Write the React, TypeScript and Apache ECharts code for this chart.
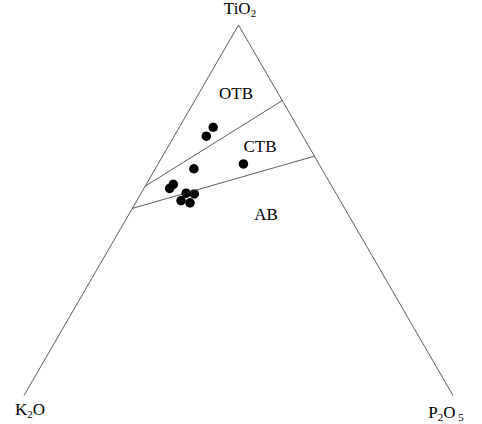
import React, { useEffect, useRef } from "react";
import * as echarts from "echarts";

// Sample compositions (wt% normalised): TiO2, K2O, P2O5
const tio2 = [72.4, 70.0, 61.2, 62.5, 57.0, 55.9, 54.6, 54.4, 52.6, 52.0];
const k2o = [19.7, 22.5, 29.8, 17.6, 36.7, 38.1, 34.9, 33.1, 37.1, 35.3];
const p2o5 = [7.9, 7.5, 9.0, 19.9, 6.3, 6.0, 10.5, 12.5, 10.3, 12.7];

// Field boundaries: endpoints as [TiO2, K2O, P2O5]
const boundaryOTB_CTB = [
  [56.5, 43.5, 0],
  [79.6, 0, 20.4],
];
const boundaryCTB_AB = [
  [50.5, 49.5, 0],
  [64.6, 0, 35.4],
];
// Triangle sides (base not drawn)
const triangleSides = [
  [0, 100, 0],
  [100, 0, 0],
  [0, 0, 100],
];

const fieldLabels = ["OTB", "CTB", "AB"];

function toXY(t: number, k: number, p: number): [number, number] {
  const s = t + k + p;
  const tt = t / s;
  const pp = p / s;
  return [pp + tt / 2, tt];
}

export default function App() {
  const ref = useRef<HTMLDivElement>(null);
  useEffect(() => {
    if (!ref.current) return;
    const chart = echarts.init(ref.current, undefined, { renderer: "svg" });
    const font = "'Liberation Serif', 'Times New Roman', serif";
    const rich = {
      a: { fontSize: 17, lineHeight: 20, fontFamily: font, color: "#000", verticalAlign: "top" },
      s: { fontSize: 11, lineHeight: 12, fontFamily: font, color: "#000", padding: [7, 0, 0, 0], verticalAlign: "top" },
    };
    const lineStyle = { color: "#333", width: 0.8 };
    const pts = tio2.map((t, i) => toXY(t, k2o[i], p2o5[i]));
    chart.setOption({
      animation: false,
      grid: { left: 24, top: 25, width: 429, height: 370.5 },
      xAxis: { type: "value", min: 0, max: 1, show: false },
      yAxis: { type: "value", min: 0, max: 1, show: false },
      series: [
        {
          type: "line",
          data: triangleSides.map((v) => toXY(v[0], v[1], v[2])),
          symbol: "none",
          lineStyle,
          silent: true,
        },
        {
          type: "line",
          data: boundaryOTB_CTB.map((v) => toXY(v[0], v[1], v[2])),
          symbol: "none",
          lineStyle,
          silent: true,
        },
        {
          type: "line",
          data: boundaryCTB_AB.map((v) => toXY(v[0], v[1], v[2])),
          symbol: "none",
          lineStyle,
          silent: true,
        },
        {
          type: "scatter",
          data: pts,
          symbol: "circle",
          symbolSize: 9.5,
          itemStyle: { color: "#000", opacity: 1 },
        },
      ],
      graphic: [
        { type: "text", x: 240, y: 10, style: { text: "{a|TiO}{s|2}", rich, align: "center", verticalAlign: "middle" } },
        { type: "text", x: 30, y: 411, style: { text: "{a|K}{s|2}{a|O}", rich, align: "center", verticalAlign: "middle" } },
        { type: "text", x: 446, y: 414, style: { text: "{a|P}{s|2}{a|O}{s| 5}", rich, align: "center", verticalAlign: "middle" } },
        { type: "text", x: 236, y: 93, style: { text: fieldLabels[0], font: `17px ${font}`, fill: "#000", align: "center", verticalAlign: "middle" } },
        { type: "text", x: 260, y: 146, style: { text: fieldLabels[1], font: `17px ${font}`, fill: "#000", align: "center", verticalAlign: "middle" } },
        { type: "text", x: 266, y: 214, style: { text: fieldLabels[2], font: `17px ${font}`, fill: "#000", align: "center", verticalAlign: "middle" } },
      ],
    });
    return () => chart.dispose();
  }, []);
  return (
    <div
      ref={ref}
      style={{ position: "absolute", left: 0, top: 0, width: 482, height: 424, background: "#fff" }}
    />
  );
}
